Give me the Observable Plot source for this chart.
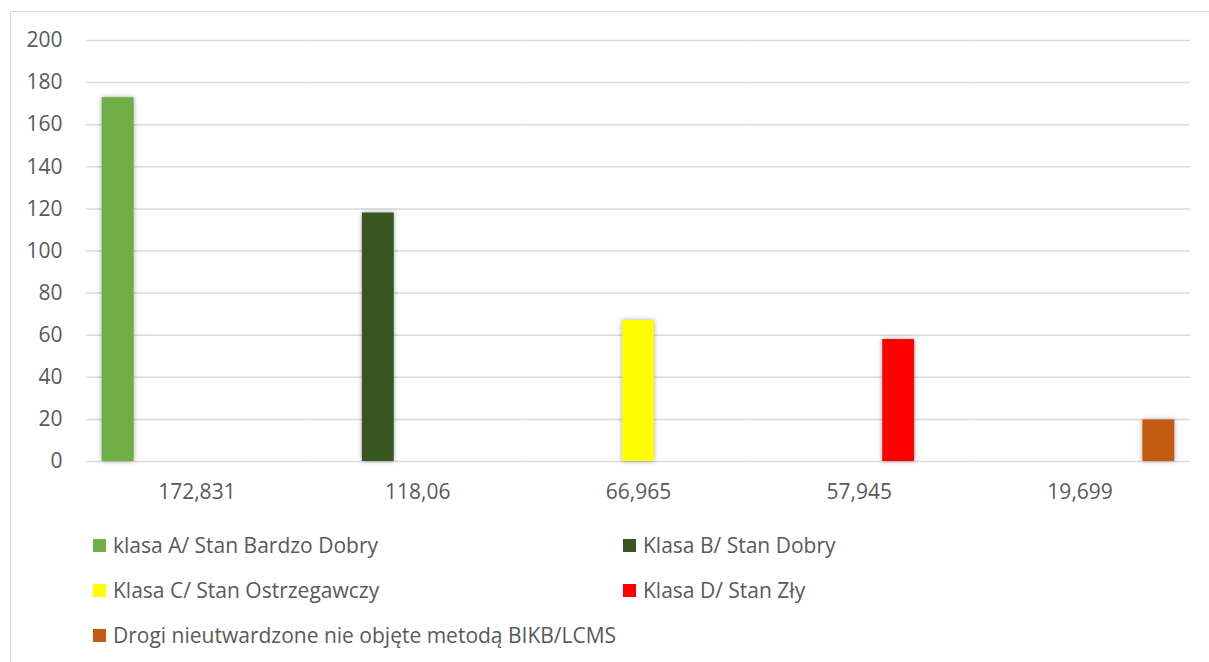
<!DOCTYPE html>
<html>
<head>
<meta charset="utf-8">
<script src="https://cdn.jsdelivr.net/npm/d3@7"></script>
<script src="https://cdn.jsdelivr.net/npm/@observablehq/plot@0.6"></script>
<style>
  html, body { margin: 0; padding: 0; background: #fff; overflow: hidden; }
  body { width: 1209px; height: 662px; position: relative; font-family: "Open Sans", "Liberation Sans", sans-serif; }
  #frame { position: absolute; left: 10px; top: 11px; width: 1230px; height: 700px; border: 1px solid #d9d9d9; box-sizing: border-box; }
  #chart { position: absolute; left: 0; top: 0; }
  #chart svg g[aria-label="bar"] rect { filter: drop-shadow(0px 0px 2.5px rgba(0,0,0,0.35)); }
  #legend { position: absolute; left: 0; top: 520px; width: 1209px; color: #595959; font-size: 21px; }
  .item { position: absolute; display: flex; align-items: center; white-space: nowrap; }
  .sw { width: 13px; height: 13px; margin-right: 7px; }
</style>
</head>
<body>
<div id="frame"></div>
<div id="chart"></div>
<div id="legend"></div>
<script>
const categories = ["172,831", "118,06", "66,965", "57,945", "19,699"];
const series = [
  "klasa A/ Stan Bardzo Dobry",
  "Klasa B/ Stan Dobry",
  "Klasa C/ Stan Ostrzegawczy",
  "Klasa D/ Stan Zły",
  "Drogi nieutwardzone nie objęte metodą BIKB/LCMS"
];
const values = [172.831, 118.06, 66.965, 57.945, 19.699];
const colors = ["#70ad47", "#375623", "#ffff00", "#ff0000", "#c55a11"];
const yTicks = [0, 20, 40, 60, 80, 100, 120, 140, 160, 180, 200];

const data = categories.map((c, i) => ({cat: c, series: series[i], value: values[i]}));

const plot = Plot.plot({
  width: 1209,
  height: 515,
  marginLeft: 86,
  marginRight: 19,
  marginTop: 40,
  marginBottom: 54,
  style: {fontSize: "21px", fontFamily: "'Open Sans', 'Liberation Sans', sans-serif", color: "#595959", background: "transparent"},
  fx: {domain: categories, padding: 0, round: false},
  x: {domain: series, paddingInner: 0.19, paddingOuter: 0.4, round: false},
  y: {domain: [0, 200]},
  color: {domain: series, range: colors},
  marks: [
    Plot.ruleY(yTicks, {stroke: "#d9d9d9", strokeWidth: 1.5}),
    Plot.barY(data, {fx: "cat", x: "series", y: "value", fill: "series"}),
    Plot.axisY(yTicks, {tickSize: 0, tickPadding: 24, label: null, fill: "#595959"}),
    Plot.axisFx({anchor: "bottom", tickSize: 0, tickPadding: 23, label: null, fill: "#595959"}),
    Plot.axisX({ticks: [], label: null, tickSize: 0})
  ]
});
document.getElementById("chart").appendChild(plot);

const legend = document.getElementById("legend");
const pos = [[93, 25], [623, 25], [93, 70], [623, 70], [93, 115]];
series.forEach((s, i) => {
  const d = document.createElement("div");
  d.className = "item";
  d.style.left = pos[i][0] + "px";
  d.style.top = (pos[i][1] - 14) + "px";
  d.style.height = "28px";
  const sw = document.createElement("div");
  sw.className = "sw";
  sw.style.background = colors[i];
  const t = document.createElement("span");
  t.textContent = s;
  d.appendChild(sw);
  d.appendChild(t);
  legend.appendChild(d);
});
</script>
</body>
</html>
